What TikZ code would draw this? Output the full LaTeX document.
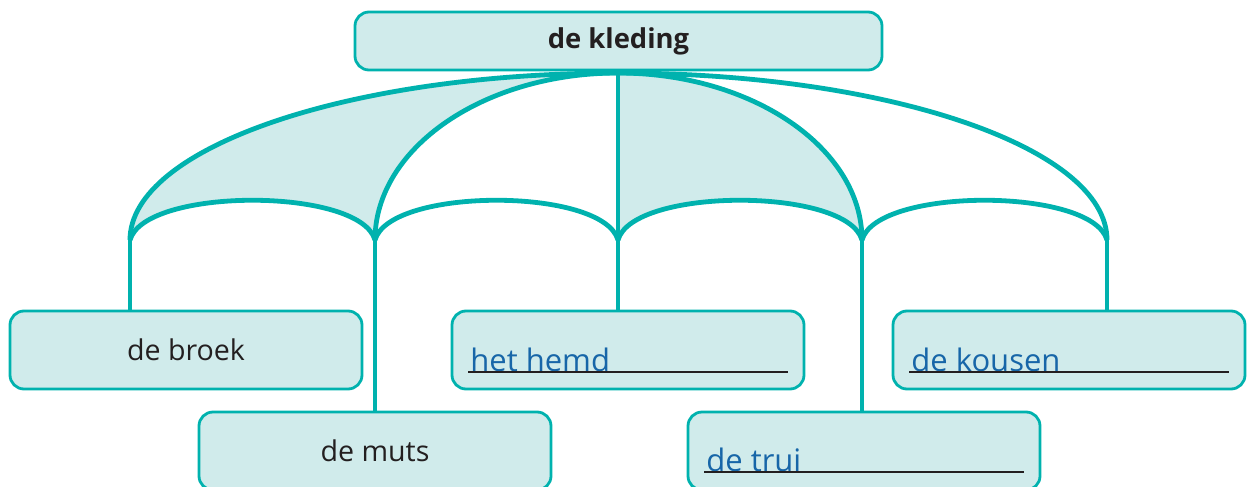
\documentclass[tikz,border=0pt]{standalone}
\usepackage{fontspec}
\setmainfont{Open Sans}
\usetikzlibrary{positioning,calc}

\definecolor{lijnkleur}{HTML}{00B2AE}
\definecolor{vlakkleur}{HTML}{D0EBEB}
\definecolor{tekstkleur}{HTML}{231F20}
\definecolor{blauw}{HTML}{1766A8}

\tikzset{
  doos/.style={draw=lijnkleur, fill=vlakkleur, line width=1.4pt, rounded corners=7pt,
    minimum width=176pt, minimum height=39pt, inner sep=0pt, text=tekstkleur,
    font=\fontsize{14.3}{16}\selectfont},
  boog/.style={draw=lijnkleur, line width=2.4pt},
  antwoord/.style={text=blauw, font=\fontsize{15.5}{18}\selectfont, anchor=base west, inner sep=0pt},
  streep/.style={draw=tekstkleur, line width=0.7pt}
}

\begin{document}
\begin{tikzpicture}[x=0.5pt,y=-0.5pt]
    		\newcommand{\spy}{240} % height of the umbrella points
    		\newcommand{\rib}{53} % lift of the small arcs
    		\newcommand{\lang}{270} % handle of the outer ribs
    		\newcommand{\kort}{134} % handle of the inner ribs
    		\newcommand{\val}{92} % vertical handle at the points

    		\useasboundingbox (0,0) rectangle (1247,487);
    		\clip (0,0) rectangle (1247,487);

    		% boxes
    		\node[doos, minimum width=263.5pt, minimum height=29pt, font=\bfseries\fontsize{13.7}{16}\selectfont] (kleding) at (618.5,41) {de kleding};
    		\node[doos] (broek) at (186,350) {de broek};
    		\node[doos] (hemd) at (628,350) {};
    		\node[doos] (kousen) at (1069,350) {};
    		\node[doos] (muts) at (375,451) {de muts};
    		\node[doos] (trui) at (864,451) {};

    		% umbrella points
    		\coordinate (T) at (618,73);
    		\foreach \x [count=\i] in {130,375,618,862,1107}
    		  \coordinate (P\i) at (\x,\spy);

    		% shaded parts
    		\fill[vlakkleur] (T) .. controls +(-\lang,0) and +(0,-\val) .. (P1)
    		  .. controls +(15,-\rib) and +(-15,-\rib) .. (P2)
    		  .. controls +(0,-\val) and +(-\kort,0) .. (T) -- cycle;
    		\fill[vlakkleur] (T) -- (P3)
    		  .. controls +(15,-\rib) and +(-15,-\rib) .. (P4)
    		  .. controls +(0,-\val) and +(\kort,0) .. (T) -- cycle;

    		% ribs
    		\draw[boog] (T) .. controls +(-\lang,0) and +(0,-\val) .. (P1);
    		\draw[boog] (T) .. controls +(-\kort,0) and +(0,-\val) .. (P2);
    		\draw[boog] (T) -- (P3);
    		\draw[boog] (T) .. controls +(\kort,0) and +(0,-\val) .. (P4);
    		\draw[boog] (T) .. controls +(\lang,0) and +(0,-\val) .. (P5);
    		\foreach \i/\j in {1/2,2/3,3/4,4/5}
    		  \draw[boog] (P\i) .. controls +(15,-\rib) and +(-15,-\rib) .. (P\j);

    		% handles down to the boxes
    		\draw[boog] (P1) -- (P1 |- broek.north);
    		\draw[boog] (P2) -- (P2 |- muts.north);
    		\draw[boog] (P3) -- (P3 |- hemd.north);
    		\draw[boog] (P4) -- (P4 |- trui.north);
    		\draw[boog] (P5) -- (P5 |- kousen.north);

    		% answers on the lines
    		\node[antwoord] (hemdtekst) at (470,371) {het hemd};
    		\node[antwoord] (kousentekst) at (911,371) {de kousen};
    		\node[antwoord] (truitekst) at (706,471) {de trui};
    		\draw[streep] ([xshift=-1pt,yshift=-0.5pt]hemdtekst.base west) -- ++(320,0);
    		\draw[streep] ([xshift=-1pt,yshift=-0.5pt]kousentekst.base west) -- ++(320,0);
    		\draw[streep] ([xshift=-1pt,yshift=-0.5pt]truitekst.base west) -- ++(320,0);
\end{tikzpicture}
\end{document}
